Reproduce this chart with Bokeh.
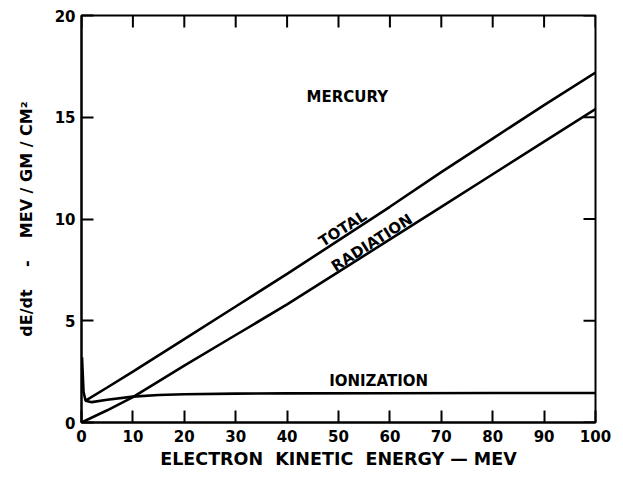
from bokeh.plotting import figure
from bokeh.models import Range1d, Label, FixedTicker
from bokeh.embed import file_html
from bokeh.resources import INLINE

# ---- data ----
energy_total = [0.8, 5, 10, 20, 30, 40, 50, 60, 70, 80, 90, 100]
total = [1.07, 1.72, 2.5, 4.1, 5.7, 7.3, 8.95, 10.6, 12.3, 13.95, 15.6, 17.2]

energy_rad = [0, 5, 10, 20, 30, 40, 50, 60, 70, 80, 90, 100]
radiation = [0, 0.6, 1.25, 2.8, 4.3, 5.8, 7.4, 9.0, 10.6, 12.2, 13.8, 15.4]

energy_ion = [0.1, 0.4, 0.8, 2, 5, 10, 15, 20, 30, 40, 60, 80, 100]
ionization = [3.2, 1.5, 1.07, 1.0, 1.12, 1.27, 1.35, 1.39, 1.42, 1.43, 1.44, 1.45, 1.45]

x_ticks = [0, 10, 20, 30, 40, 50, 60, 70, 80, 90, 100]
y_ticks = [0, 5, 10, 15, 20]

NB = "\u00a0"
title_text = "MERCURY"
curve_names = ["TOTAL", "RADIATION", "IONIZATION"]
x_title = "ELECTRON" + NB * 2 + "KINETIC" + NB * 2 + "ENERGY" + NB + "\u2014" + NB + "MEV"
y_title = "dE/dt" + NB * 4 + "-" + NB * 4 + "MEV / GM / CM\u00b2"

FONT = "DejaVu Sans"

W, H = 615, 475
BL, BR, BT, BB = 81, 20, 15, 53
X0, X1, Y0, Y1 = 0, 100, 0, 20

p = figure(width=W, height=H,
           x_range=Range1d(X0, X1), y_range=Range1d(Y0, Y1),
           output_backend="svg", toolbar_location=None,
           min_border_left=BL, min_border_right=BR,
           min_border_top=BT, min_border_bottom=BB,
           background_fill_color="white", border_fill_color="white")
p.grid.visible = False
p.outline_line_color = "black"
p.outline_line_width = 2

def style_axis(ax):
    ax.axis_line_color = "black"
    ax.axis_line_width = 2
    ax.major_tick_in = 12
    ax.major_tick_out = 0
    ax.major_tick_line_width = 2
    ax.major_tick_line_color = "black"
    ax.minor_tick_line_color = None
    ax.major_label_text_font = FONT
    ax.major_label_text_font_style = "bold"
    ax.major_label_text_font_size = "15px"
    ax.major_label_text_color = "black"

xa = p.xaxis[0]
xa.ticker = FixedTicker(ticks=x_ticks)
style_axis(xa)
xa.major_label_standoff = 7
xa.axis_label = x_title
xa.axis_label_standoff = 4
xa.axis_label_text_font = FONT
xa.axis_label_text_font_style = "bold"
xa.axis_label_text_font_size = "17.5px"
xa.axis_label_text_color = "black"

ya = p.yaxis[0]
ya.ticker = FixedTicker(ticks=y_ticks)
style_axis(ya)
ya.major_label_standoff = 6
ya.axis_label = y_title
ya.axis_label_standoff = 16
ya.axis_label_text_font = FONT
ya.axis_label_text_font_style = "bold"
ya.axis_label_text_font_size = "16px"
ya.axis_label_text_color = "black"

# inward ticks on the top and right edges, placed from the tick values
fw = W - BL - BR
fh = H - BT - BB
tick_px = 12
dy = tick_px * (Y1 - Y0) / fh
dx = tick_px * (X1 - X0) / fw
p.segment(x0=x_ticks, y0=[Y1] * len(x_ticks), x1=x_ticks,
          y1=[Y1 - dy] * len(x_ticks), line_color="black", line_width=2)
p.segment(x0=[X1] * len(y_ticks), y0=y_ticks, x1=[X1 - dx] * len(y_ticks),
          y1=y_ticks, line_color="black", line_width=2)

lw = 2.6
p.line(energy_total, total, line_color="black", line_width=lw)
p.line(energy_rad, radiation, line_color="black", line_width=lw)
p.line(energy_ion, ionization, line_color="black", line_width=lw)

def lab(x, y, text, size="15px", angle=0):
    p.add_layout(Label(x=x, y=y, text=text, text_align="center",
                       text_baseline="middle", text_font=FONT,
                       text_font_style="bold", text_font_size=size,
                       text_color="black", angle=angle, angle_units="deg"))

lab(51.7, 16.0, title_text, "15px")
lab(50.8, 9.52, curve_names[0], "15px", 32.6)
lab(56.5, 8.83, curve_names[1], "15px", 32.6)
lab(57.8, 2.06, curve_names[2], "15px")

open("out.html", "w").write(file_html(p, INLINE))
